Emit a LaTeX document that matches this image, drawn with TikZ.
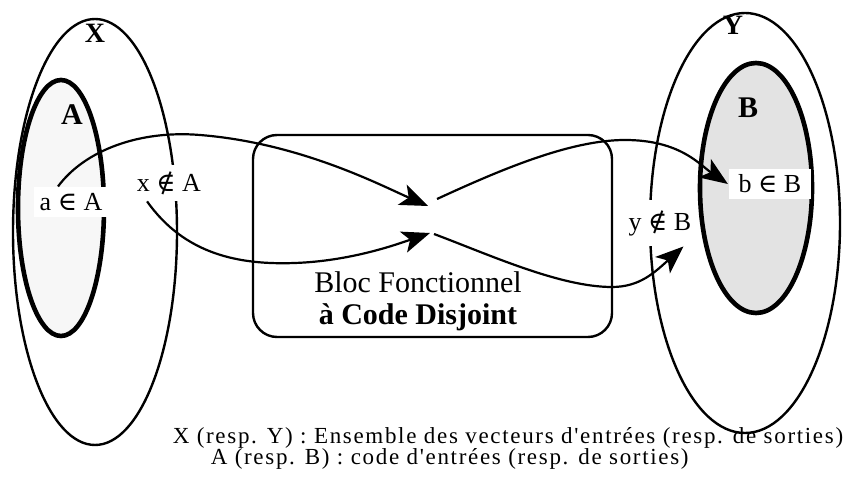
\documentclass[tikz,border=0pt]{standalone}
\usepackage{fontspec}
\setmainfont{Liberation Serif}
\newfontfamily\symbfont{DejaVu Serif}
\newfontfamily\legendfont[LetterSpace=7.3]{Liberation Serif}
\usetikzlibrary{arrows.meta}

\begin{document}
\begin{tikzpicture}[x=0.5pt, y=-0.5pt, thick,
  >={Stealth[length=14pt,width=11pt,inset=3.5pt]},
  setline/.style={line width=1.2pt},
  codeset/.style={line width=2.3pt},
  elem/.style={fill=white, inner sep=3pt, font=\fontsize{13}{15}\selectfont},
  setname/.style={inner sep=0pt, font=\fontsize{14}{16}\selectfont\bfseries},
  legend/.style={anchor=base west, inner sep=0pt, font=\legendfont\fontsize{11.5}{13}\selectfont},
  flow/.style={->, line width=1.1pt}]

\useasboundingbox (0,0) rectangle (850,485);

% --------
\draw [setline] (95,232) ellipse [x radius=82, y radius=213];
\draw [codeset, fill=gray!6] (61,208) ellipse [x radius=43, y radius=128];
\draw [setline] (745,223) ellipse [x radius=95, y radius=210];
\draw [codeset, fill=gray!22] (756,188) ellipse [x radius=56, y radius=125];

\node [setname] (Xname) at (95,33) {X};
\node [setname, font=\fontsize{15}{17}\selectfont\bfseries] (Aname) at (72,115) {A};
\node [setname] (Yname) at (733,25) {Y};
\node [setname, font=\fontsize{15}{17}\selectfont\bfseries] (Bname) at (748,108) {B};

\node [elem] (aA) at (71,202) {a {\symbfont ∈} A};
\node [elem] (xA) at (169,183) {x {\symbfont ∉} A};
\node [elem, inner xsep=5pt] (bB) at (770,184) {b {\symbfont ∈} B};
\node [elem, inner ysep=5pt] (yB) at (660,223) {y {\symbfont ∉} B};

% --------
\node [draw, setline, rounded corners=12pt, minimum width=179.5pt, minimum height=101pt] (bloc) at (432.5,236) {};
\node [align=center, font=\fontsize{15}{16}\selectfont] (blocname) at (418,301) {Bloc Fonctionnel\\\textbf{à Code Disjoint}};

\coordinate (crossA) at (428,206);
\coordinate (crossB) at (437,199);
\coordinate (crossC) at (430,233);
\coordinate (crossD) at (434,234);

\draw [flow] (aA.130) .. controls (85,150) and (140,130) .. (200,135) .. controls (300,143) and (380,185) .. (crossA);
\draw [flow] (crossB) .. controls (500,170) and (570,140) .. (625,140) .. controls (680,140) and (700,165) .. (bB.west);
\draw [flow] (xA.220) .. controls (185,255) and (240,265) .. (295,263) .. controls (350,261) and (395,245) .. (crossC);
\draw [flow] (crossD) .. controls (490,255) and (560,287) .. (612,287) .. controls (640,287) and (655,272) .. (yB.-45);

% --------
\node [legend] (legendXY) at (172,444) {X (resp. Y) : Ensemble des vecteurs d'entrées (resp. de sorties)};
\node [legend] (legendAB) at (210,465) {A (resp. B) : code d'entrées (resp. de sorties)};

\end{tikzpicture}
\end{document}
